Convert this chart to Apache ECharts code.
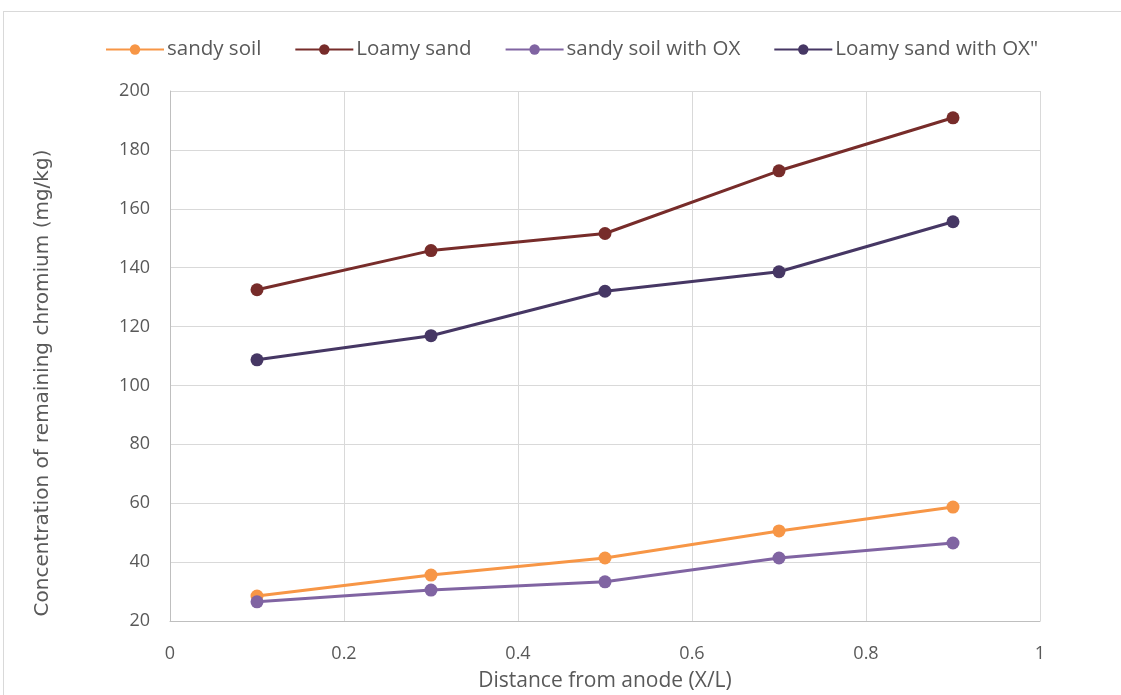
<!DOCTYPE html>
<html lang="en">
<head>
	<meta charset="UTF-8">
	<title>Remaining chromium</title>
	<script src="https://cdn.jsdelivr.net/npm/echarts@6/dist/echarts.min.js"></script>
	<style>
		html,body{width:100%;height:100%;margin:0;background:#fff;}
		.frame{position:absolute;left:3px;top:11px;right:-2px;bottom:-2px;border:1px solid #d9d9d9;}
		#chart{width:1121px;height:695px;position:absolute;left:0;top:0;}
	</style>
</head>
<body>
	<div class="frame"></div>
	<div id="chart"></div>
<script>
	// x positions (X/L)
	var xValues = [0.1, 0.3, 0.5, 0.7, 0.9];

	var sandySoil = [28.5, 35.6, 41.4, 50.6, 58.7];
	var loamySand = [132.5, 145.8, 151.6, 172.9, 190.9];
	var sandySoilOX = [26.5, 30.5, 33.3, 41.4, 46.5];
	var loamySandOX = [108.7, 116.9, 132, 138.6, 155.6];

	var seriesNames = ['sandy soil', 'Loamy sand', 'sandy soil with OX', 'Loamy sand with OX"'];
	var seriesColors = ['#F79646', '#772C2A', '#8064A2', '#463764'];
	var seriesData = [sandySoil, loamySand, sandySoilOX, loamySandOX];

	var font = '"Open Sans", sans-serif';
	var txt = '#595959';

	function pairs(ys) {
		var out = [];
		for (var i = 0; i < xValues.length; i++) {
			out.push([xValues[i], ys[i]]);
		}
		return out;
	}

	var seriesArr = [];
	for (var i = 0; i < seriesNames.length; i++) {
		seriesArr.push({
			name: seriesNames[i],
			type: 'line',
			data: pairs(seriesData[i]),
			symbol: 'circle',
			symbolSize: 13,
			lineStyle: { width: 3, color: seriesColors[i] },
			itemStyle: { color: seriesColors[i] },
			animation: false
		});
	}

	var myChart = echarts.init(document.getElementById('chart'));
	var options = {
		textStyle: { fontFamily: font },
		legend: {
			top: 34,
			left: 100,
			itemWidth: 58,
			itemHeight: 13,
			itemGap: 33,
			textStyle: { fontSize: 20.5, color: txt, fontFamily: font, padding: [0, 0, 0, -2] },
			data: seriesNames
		},
		grid: {
			left: 170,
			right: 81,
			top: 91,
			bottom: 74,
			outerBoundsMode: 'none'
		},
		xAxis: {
			type: 'value',
			min: 0,
			max: 1,
			interval: 0.2,
			name: 'Distance from anode (X/L)',
			nameLocation: 'middle',
			nameGap: 50,
			nameTextStyle: { fontSize: 21, color: txt, fontFamily: font },
			axisLine: { show: true, lineStyle: { color: '#bfbfbf', width: 1 } },
			axisTick: { show: false },
			axisLabel: { fontSize: 18, color: txt, margin: 24 },
			splitLine: { show: true, lineStyle: { color: '#d9d9d9', width: 1 } }
		},
		yAxis: {
			type: 'value',
			min: 20,
			max: 200,
			interval: 20,
			name: 'Concentration of remaining chromium (mg/kg)',
			nameLocation: 'middle',
			nameGap: 117,
			nameTextStyle: { fontSize: 20, color: txt, fontFamily: '"DejaVu Sans", sans-serif', padding: [0, 0, 0, -54] },
			axisLine: { show: true, lineStyle: { color: '#bfbfbf', width: 1 } },
			axisTick: { show: false },
			axisLabel: { fontSize: 18, color: txt, margin: 20 },
			splitLine: { show: true, lineStyle: { color: '#d9d9d9', width: 1 } }
		},
		series: seriesArr
	};
	myChart.setOption(options);
</script>
</body>
</html>
